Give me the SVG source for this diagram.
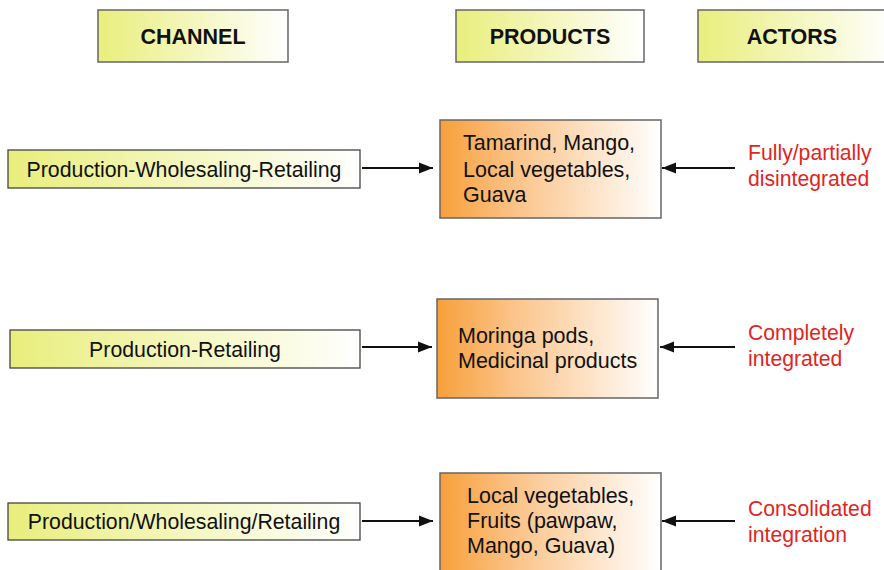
<svg xmlns="http://www.w3.org/2000/svg" width="884" height="570" viewBox="0 0 884 570">
<defs>
<linearGradient id="gy" x1="0" y1="0" x2="1" y2="0"><stop offset="0" stop-color="#e9ee7c"/><stop offset="1" stop-color="#ffffff"/></linearGradient>
<linearGradient id="go" x1="0" y1="0" x2="1" y2="0"><stop offset="0" stop-color="#f7a03a"/><stop offset="0.35" stop-color="#fbc48a"/><stop offset="1" stop-color="#ffffff"/></linearGradient>
<marker id="ah" viewBox="0 0 10 10" refX="10" refY="5" markerWidth="7" markerHeight="7" orient="auto" markerUnits="strokeWidth"><path d="M0,1 L10,5 L0,9 Z" fill="#111"/></marker>
</defs>
<style>
.hb{fill:url(#gy);stroke:#666;stroke-width:1.5}
.cb{fill:url(#gy);stroke:#444;stroke-width:1.3}
.pb{fill:url(#go);stroke:#666;stroke-width:1.5}
.ht{font-family:"Liberation Sans",Arial,sans-serif;font-size:21.5px;font-weight:bold;fill:#111;text-anchor:middle}
.t{font-family:"Liberation Sans",Arial,sans-serif;font-size:21.3px;fill:#111}
.p{font-size:21.5px}
.c{text-anchor:middle}
.r{font-family:"Liberation Sans",Arial,sans-serif;font-size:21.2px;fill:#e0261e}
.a{stroke:#111;stroke-width:2;fill:none;marker-end:url(#ah)}
</style>
<rect width="884" height="570" fill="#fff"/>
<g id="h-channel"><rect class="hb" x="98" y="10" width="190" height="52"/><text class="ht" x="193" y="44">CHANNEL</text></g>
<g id="h-products"><rect class="hb" x="456" y="10" width="188" height="52"/><text class="ht" x="550" y="44">PRODUCTS</text></g>
<g id="h-actors"><rect class="hb" x="698" y="10" width="196" height="52"/><text class="ht" x="792" y="44">ACTORS</text></g>

<g id="ch1"><rect class="cb" x="8" y="150" width="352" height="38"/><text class="t c" x="184" y="177">Production-Wholesaling-Retailing</text></g>
<g id="ch2"><rect class="cb" x="10" y="330" width="350" height="38"/><text class="t c" x="185" y="357">Production-Retailing</text></g>
<g id="ch3"><rect class="cb" x="8" y="503" width="352" height="37"/><text class="t c" x="184" y="529">Production/Wholesaling/Retailing</text></g>

<g id="p1"><rect class="pb" x="440" y="120" width="221" height="98"/><text class="t p" x="463" y="150">Tamarind, Mango,</text><text class="t p" x="463" y="177">Local vegetables,</text><text class="t p" x="463" y="202">Guava</text></g>
<g id="p2"><rect class="pb" x="437" y="299" width="221" height="99"/><text class="t p" x="458" y="343">Moringa pods,</text><text class="t p" x="458" y="368">Medicinal products</text></g>
<g id="p3"><rect class="pb" x="440" y="473" width="221" height="110"/><text class="t p" x="467" y="503">Local vegetables,</text><text class="t p" x="467" y="528">Fruits (pawpaw,</text><text class="t p" x="467" y="553">Mango, Guava)</text></g>

<g id="a1"><text class="r" x="748" y="160">Fully/partially</text><text class="r" x="748" y="186">disintegrated</text></g>
<g id="a2"><text class="r" x="748" y="340">Completely</text><text class="r" x="748" y="366">integrated</text></g>
<g id="a3"><text class="r" x="748" y="516">Consolidated</text><text class="r" x="748" y="542">integration</text></g>

<g id="connectors">
<line class="a" x1="362" y1="168" x2="433" y2="168"/>
<line class="a" x1="735" y1="168" x2="662" y2="168"/>
<line class="a" x1="362" y1="347" x2="432" y2="347"/>
<line class="a" x1="735" y1="347" x2="660" y2="347"/>
<line class="a" x1="362" y1="521" x2="433" y2="521"/>
<line class="a" x1="735" y1="521" x2="662" y2="521"/>
</g>
</svg>
